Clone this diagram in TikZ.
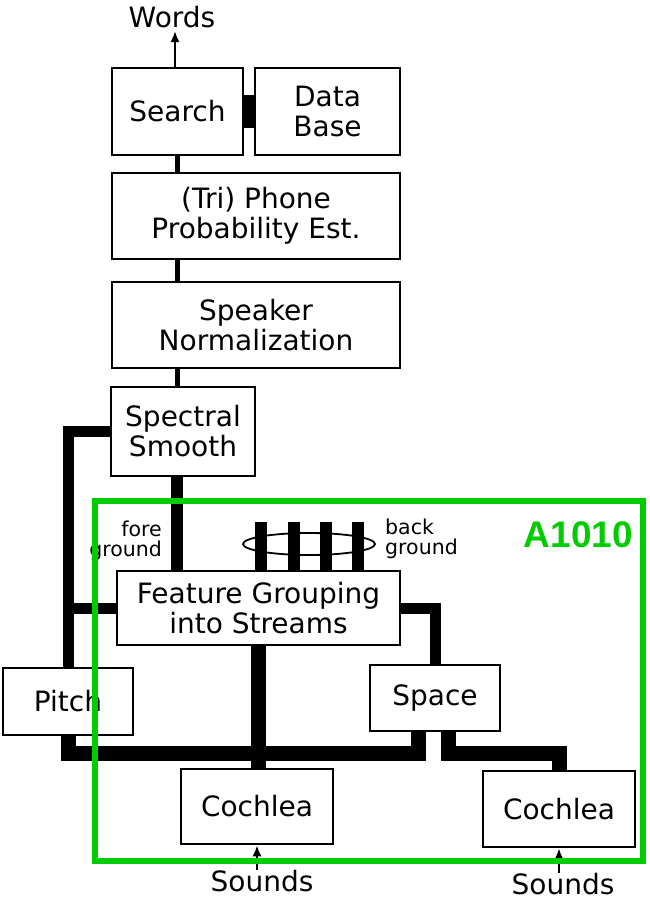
\documentclass[tikz,border=0pt]{standalone}
\usepackage{fontspec}
\setmainfont{DejaVu Sans}
\newfontfamily\tagfont{Liberation Sans}
\usetikzlibrary{arrows.meta,calc}
\definecolor{framegreen}{RGB}{0,204,0}
\pgfdeclarelayer{background}
\pgfsetlayers{background,main}
\begin{document}
\begin{tikzpicture}[x=1pt,y=-1pt,
  box/.style={draw,line width=2.5pt,fill=white,inner sep=0pt,align=center,
    font=\fontsize{28}{30}\selectfont},
  lbl/.style={inner sep=0pt,font=\fontsize{28}{30}\selectfont},
  small/.style={inner sep=0pt,font=\fontsize{20.5}{20.5}\selectfont},
  linkA/.style={line width=5pt},
  linkB/.style={line width=11pt,line join=miter},
  linkC/.style={line width=15pt,line join=miter},
  arrowline/.style={line width=2pt,-{Latex[length=11pt,width=9pt]}}]
\useasboundingbox (0,0) rectangle (649,900);

% boxes
\node[box,minimum width=131pt,minimum height=87pt] (search) at (177.5,111.5) {Search};
\node[box,minimum width=145pt,minimum height=87pt] (database) at (327.5,111.5) {Data\\Base};
\node[box,minimum width=288pt,minimum height=86pt] (triphone) at (256,216) {(Tri) Phone\\Probability Est.};
\node[box,minimum width=288pt,minimum height=86pt] (speaker) at (256,325) {Speaker\\Normalization};
\node[box,minimum width=144pt,minimum height=89pt] (spectral) at (183,431.5) {Spectral\\Smooth};
\node[box,minimum width=283pt,minimum height=74pt] (feature) at (258.5,608) {Feature Grouping\\into Streams};
\node[box,minimum width=130pt,minimum height=67pt] (pitch) at (68,701.5) {Pitch};
\node[box,minimum width=130pt,minimum height=66pt] (space) at (435,698) {Space};
\node[box,minimum width=152pt,minimum height=75pt] (cochleaL) at (257,806.5) {Cochlea};
\node[box,minimum width=152pt,minimum height=76pt] (cochleaR) at (559,809) {Cochlea};

% texts
\node[lbl,anchor=base] (words) at (172,27) {Words};
\node[lbl,anchor=base] (soundsL) at (262,891) {Sounds};
\node[lbl,anchor=base] (soundsR) at (563,894) {Sounds};
\node[small,align=right,anchor=east] (fore) at (162,541) {fore\\ground};
\node[small,align=left,anchor=west] (back) at (385,539) {back\\ground};
\node[inner sep=0pt,anchor=base east,text=framegreen,
  font=\tagfont\bfseries\fontsize{37}{40}\selectfont] (tag) at (633,547) {A1010};

% coordinates
\coordinate (spine) at (177,0);
\coordinate (wordsin) at (175,31);
\coordinate (busy) at (0,753);
\coordinate (sl) at ($(space.south)+(-17,0)$);
\coordinate (sr) at ($(space.south)+(13,0)$);

\begin{pgfonlayer}{background}
  \draw[arrowline] (search.north -| wordsin) -- (wordsin);
  \draw[line width=33pt] (search.east) -- (database.west);
  \draw[linkA] (search.south -| spine) -- (triphone.north -| spine);
  \draw[linkA] (triphone.south -| spine) -- (speaker.north -| spine);
  \draw[linkA] (speaker.south -| spine) -- (spectral.north -| spine);
  \draw[line width=12pt] (spectral.south -| spine) -- (feature.north -| spine);
  \draw[linkB] (spectral.west) -| (pitch.north);
  \draw[linkB] (feature.west) -- (feature.west -| pitch.north);
  \draw[linkB] (feature.east) -| (space.north);
  \draw[linkC] (feature.south) -- (feature.south |- cochleaL.north);
  \draw[linkC] (pitch.south) |- (sl |- busy) -- (sl);
  \draw[linkC] (sr) |- (cochleaR.north |- busy) -- (cochleaR.north);
  \foreach \bx in {261,294,326,358}
    \draw[line width=12pt] (\bx,522) -- (\bx,0 |- feature.north);
  \draw[line width=1.8pt] (309,544) ellipse [x radius=66pt, y radius=11pt];
  \draw[arrowline] (soundsL.north -| cochleaL.south) -- (cochleaL.south);
  \draw[arrowline] (soundsR.north -| cochleaR.south) -- (cochleaR.south);
\end{pgfonlayer}

% A1010 frame
\draw[framegreen,line width=6pt] (95,501) rectangle (643,861);
\end{tikzpicture}
\end{document}
